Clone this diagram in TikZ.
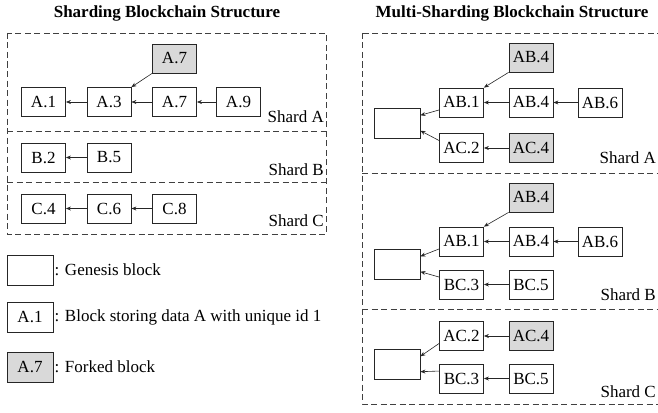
\documentclass[tikz,border=0pt]{standalone}
\usepackage{fontspec}
\setmainfont{Liberation Serif}
\usetikzlibrary{arrows.meta,calc}
\colorlet{fork fill}{black!15}
\colorlet{frame edge}{black!75}
\tikzset{block/.style={draw=black!85, line width=0.8pt, minimum width=44pt, minimum height=29pt, inner sep=0pt},
	forked/.style={block, fill=fork fill},
	genesis/.style={block, minimum width=46pt, minimum height=30pt},
	link/.style={-{Stealth[length=5pt,width=4pt]}, line width=0.6pt, black!85},
	shardframe/.style={draw=frame edge, line width=0.8pt, dash pattern=on 6pt off 3.5pt},
	shardname/.style={anchor=base east, inner sep=0pt},
	heading/.style={font=\fontsize{17}{20}\selectfont\bfseries},
	legendtext/.style={anchor=west, inner sep=1pt}}

\begin{document}
\begin{tikzpicture}[x=1pt,y=-1pt,font=\fontsize{17}{20}\selectfont]
		\useasboundingbox (0,0) rectangle (658,412);
		\node[heading] (lt) at (167,13) {Sharding Blockchain Structure};
		\node[heading] (rt) at (512,13) {Multi-Sharding Blockchain Structure};
		
		% sharding
		\draw[shardframe] (7,33) rectangle (326,234);
		\draw[shardframe] (7,131) -- (326,131);
		\draw[shardframe] (7,182) -- (326,182);
		\node[shardname] (lsa) at (324,122) {Shard A};
		\node[shardname] (lsb) at (324,175) {Shard B};
		\node[shardname] (lsc) at (324,226) {Shard C};
		
		\node[forked] (lfA7) at (174.5,58.5) {A.7};
		\node[block] (lA1) at (43.5,102) {A.1};
		\node[block] (lA3) at (109,102) {A.3};
		\node[block] (lA7) at (174.5,102) {A.7};
		\node[block] (lA9) at (238.5,102) {A.9};
		\draw[link] (lA3) -- (lA1);
		\draw[link] (lA7) -- (lA3);
		\draw[link] (lA9) -- (lA7);
		\draw[link] (lfA7.south west) -- (lA3.north east);
		
		\node[block] (lB2) at (43.5,157.5) {B.2};
		\node[block] (lB5) at (109,157.5) {B.5};
		\draw[link] (lB5) -- (lB2);
		
		\node[block] (lC4) at (43.5,208.5) {C.4};
		\node[block] (lC6) at (109,208.5) {C.6};
		\node[block] (lC8) at (174.5,208.5) {C.8};
		\draw[link] (lC6) -- (lC4);
		\draw[link] (lC8) -- (lC6);
		
		% legend
		\node[genesis] (legG) at (30,270) {};
		\node[legendtext] (legGt) at (legG.east) {: Genesis block};
		\node[genesis] (legA1) at (30,317) {A.1};
		\node[legendtext] (legA1t) at (legA1.east) {: Block storing data A with unique id 1};
		\node[genesis,fill=fork fill] (legA7) at (30,367) {A.7};
		\node[legendtext] (legA7t) at (legA7.east) {: Forked block};
		
		% multi-sharding
		\draw[shardframe] (362,33) rectangle (664,404);
		\draw[shardframe] (362,173) -- (664,173);
		\draw[shardframe] (362,309) -- (664,309);
		\node[shardname] (rsa) at (656,163) {Shard A};
		\node[shardname] (rsb) at (656,300) {Shard B};
		\node[shardname] (rsc) at (656,397) {Shard C};
		
		\node[forked] (aF) at (531,57.5) {AB.4};
		\node[genesis] (aG) at (397,123) {};
		\node[block] (aAB1) at (461.5,102.5) {AB.1};
		\node[block] (aAB4) at (531,102.5) {AB.4};
		\node[block] (aAB6) at (600,102.5) {AB.6};
		\node[block] (aAC2) at (461.5,148) {AC.2};
		\node[forked] (aAC4) at (531,148) {AC.4};
		\draw[link] (aF.south west) -- (aAB1.north east);
		\draw[link] (aAB4) -- (aAB1);
		\draw[link] (aAB6) -- (aAB4);
		\draw[link] (aAC4) -- (aAC2);
		\draw[link] ($(aAB1.west)!0.5!(aAB1.south west)$) -- ($(aG.east)!0.5!(aG.north east)$);
		\draw[link] ($(aAC2.west)!0.5!(aAC2.north west)$) -- ($(aG.east)!0.5!(aG.south east)$);
		
		\node[forked] (bF) at (531,197.5) {AB.4};
		\node[genesis] (bG) at (397,264) {};
		\node[block] (bAB1) at (461.5,241.5) {AB.1};
		\node[block] (bAB4) at (531,241.5) {AB.4};
		\node[block] (bAB6) at (600,241.5) {AB.6};
		\node[block] (bBC3) at (461.5,284.5) {BC.3};
		\node[block] (bBC5) at (531,284.5) {BC.5};
		\draw[link] (bF.south west) -- (bAB1.north east);
		\draw[link] (bAB4) -- (bAB1);
		\draw[link] (bAB6) -- (bAB4);
		\draw[link] (bBC5) -- (bBC3);
		\draw[link] ($(bAB1.west)!0.5!(bAB1.south west)$) -- ($(bG.east)!0.5!(bG.north east)$);
		\draw[link] ($(bBC3.west)!0.5!(bBC3.north west)$) -- ($(bG.east)!0.5!(bG.south east)$);
		
		\node[genesis] (cG) at (397,364) {};
		\node[block] (cAC2) at (461.5,336) {AC.2};
		\node[forked] (cAC4) at (531,336) {AC.4};
		\node[block] (cBC3) at (461.5,378.5) {BC.3};
		\node[block] (cBC5) at (531,378.5) {BC.5};
		\draw[link] (cAC4) -- (cAC2);
		\draw[link] (cBC5) -- (cBC3);
		\draw[link] ($(cAC2.west)!0.5!(cAC2.south west)$) -- ($(cG.east)!0.5!(cG.north east)$);
		\draw[link] ($(cBC3.west)!0.5!(cBC3.north west)$) -- ($(cG.east)!0.5!(cG.south east)$);
		\end{tikzpicture}
\end{document}
